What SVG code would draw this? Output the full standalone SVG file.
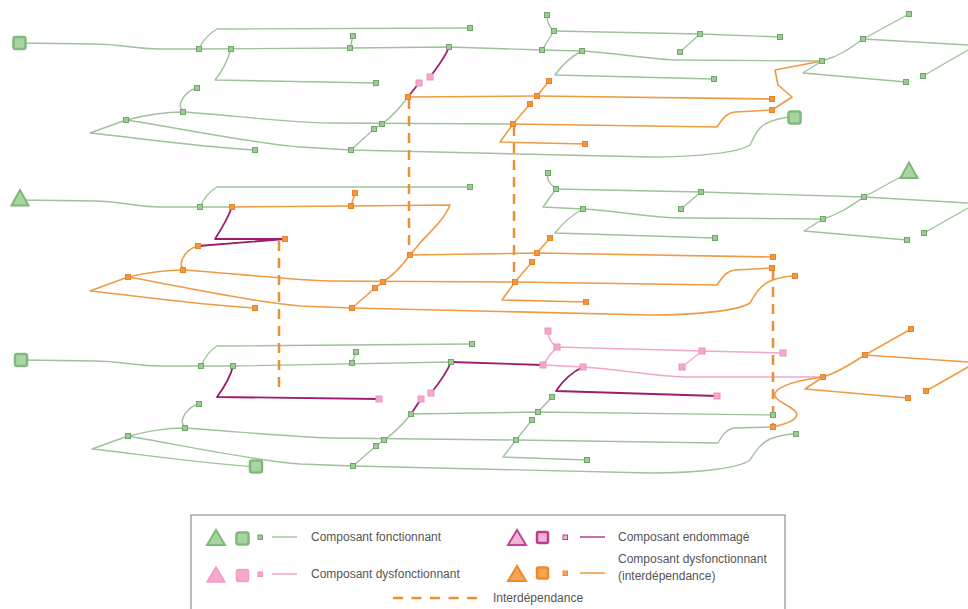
<svg xmlns="http://www.w3.org/2000/svg" width="968" height="609" viewBox="0 0 968 609">
<style>
.lg{fill:none;stroke:#9fc29b;stroke-width:1.4;stroke-linejoin:round}
.lo{fill:none;stroke:#ef9a45;stroke-width:1.6;stroke-linejoin:round}
.lm{fill:none;stroke:#9b1d6c;stroke-width:1.8;stroke-linejoin:round}
.lp{fill:none;stroke:#f2a6ca;stroke-width:1.5;stroke-linejoin:round}
.dash{fill:none;stroke:#ea9035;stroke-width:2.5;stroke-dasharray:10 7}
.ng{fill:#9ccb96;stroke:#6da868;stroke-width:1}
.no{fill:#f29640;stroke:#e98326;stroke-width:1}
.np{fill:#f5a8cb;stroke:#ec92bd;stroke-width:1}
.bg{fill:#a9d5a3;stroke:#80ba7b;stroke-width:2.5}
.tg{fill:#a9d5a3;stroke:#7cb877;stroke-width:2}
.txt{font-family:"Liberation Sans",Arial,sans-serif;font-size:12px;fill:#555}
</style>

<g id="connectors">
<!-- top layer -->
<path class="lg" d="M19 43 L95 44 C120 44 135 49 160 49 L199 49"/>
<path class="lg" d="M199 49 L350 48 L449 47 L542 50 L582 51 C620 53 650 60 680 60 L822 61"/>
<path class="lg" d="M199 49 C203 40 210 33 217 29 L470 28"/>
<path class="lg" d="M231 49 C227 62 222 72 215 80 L376 83"/>
<path class="lg" d="M197 88 C188 90 181 98 180 106 L183 112"/>
<path class="lg" d="M126 120 C150 114 165 112 183 112 C230 115 280 122 330 123 L513 124"/>
<path class="lg" d="M126 120 L90 133 C130 137 190 146 255 150"/>
<path class="lg" d="M126 120 C180 128 250 143 300 147 L351 150 L650 157 C700 157 740 152 750 145 C755 135 758 128 765 124 C775 119 785 117 794 117"/>
<path class="lg" d="M350 48 L353 36"/>
<path class="lm" d="M449 47 C445 58 438 66 430 77"/>
<path class="lm" d="M419 83 L408 97"/>
<path class="lg" d="M408 97 C400 108 390 118 382 124 L374 129 L351 150"/>
<path class="lo" d="M408 97 L537 96 L772 99"/>
<path class="lo" d="M537 96 L549 81"/>
<path class="lo" d="M513 124 L717 127 C722 120 726 113 735 112 L772 110 L792 97 L778 85 L775 70 L822 61"/>
<path class="lo" d="M513 124 L530 104"/>
<path class="lo" d="M513 124 L500 142 L585 144"/>
<path class="lg" d="M542 50 L554 31 C549 27 547 22 547 15"/>
<path class="lg" d="M554 31 L700 34 L780 37"/>
<path class="lg" d="M700 34 L680 52"/>
<path class="lg" d="M582 51 C570 57 562 65 555 75 L714 79"/>
<path class="lg" d="M822 61 C840 56 852 47 863 39 L909 14"/>
<path class="lg" d="M863 39 L968 45"/>
<path class="lg" d="M822 61 L803 73 L906 82"/>
<path class="lg" d="M923 76 L968 50"/>

<!-- middle layer -->
<path class="lg" d="M20 200 L95 201 C120 201 135 207 160 207 L232 207"/>
<path class="lg" d="M200 207 C204 198 210 191 217 187 L470 187"/>
<path class="lo" d="M232 207 L351 206 L450 205 C444 220 430 232 420 243 L410 255"/>
<path class="lm" d="M232 207 C228 218 222 228 215 239 L285 239 L198 246"/>
<path class="lo" d="M198 246 C189 248 182 256 181 264 L183 270"/>
<path class="lo" d="M128 277 C150 272 165 270 183 270 C230 273 290 280 330 281 L515 282 L717 285 C722 278 726 271 735 270 L772 268"/>
<path class="lo" d="M128 277 L90 291 C130 295 190 304 255 308"/>
<path class="lo" d="M128 277 C180 286 250 302 300 306 L352 308 L650 315 C700 315 740 310 750 303 C756 293 760 286 770 281 C778 278 788 276 795 276"/>
<path class="lo" d="M351 206 L355 193"/>
<path class="lo" d="M410 255 L537 253 L773 257"/>
<path class="lo" d="M537 253 L550 238"/>
<path class="lo" d="M410 255 C402 266 392 276 383 282 L375 288 L352 308"/>
<path class="lo" d="M515 282 L532 262"/>
<path class="lo" d="M515 282 L502 300 L586 302"/>
<path class="lg" d="M548 173 C546 179 549 183 556 189"/>
<path class="lg" d="M556 189 L543 207 L583 209 C620 211 650 218 685 218 L823 219"/>
<path class="lg" d="M556 189 L701 192 L864 197 L968 203"/>
<path class="lg" d="M701 192 L681 209"/>
<path class="lg" d="M583 209 C570 216 562 224 555 233 L715 238"/>
<path class="lg" d="M823 219 C840 214 852 205 864 197 L906 174"/>
<path class="lg" d="M823 219 L804 231 L907 240"/>
<path class="lg" d="M924 233 L968 208"/>

<!-- bottom layer -->
<path class="lg" d="M21 360 L95 361 C120 361 135 366 160 366 L233 366 L451 362"/>
<path class="lm" d="M451 362 L543 365"/>
<path class="lp" d="M543 365 L583 367 C620 369 650 376 685 377 L823 377"/>
<path class="lp" d="M543 365 C548 357 552 352 557 347 L702 351 L783 353"/>
<path class="lp" d="M557 347 C551 343 548 338 548 331"/>
<path class="lp" d="M702 351 L682 367"/>
<path class="lm" d="M583 367 C572 372 562 382 556 391 L717 396"/>
<path class="lg" d="M201 366 C205 357 210 350 217 346 L472 344"/>
<path class="lm" d="M233 366 C231 375 225 386 217 397 L379 399"/>
<path class="lg" d="M199 404 C190 406 183 414 182 422 L185 428"/>
<path class="lg" d="M128 436 C150 431 165 428 185 428 C230 431 290 437 330 438 L516 440 L718 443 C722 436 726 429 735 428 L773 427"/>
<path class="lg" d="M128 436 L92 449 C130 453 190 462 256 467"/>
<path class="lg" d="M128 436 C180 445 250 460 300 464 L353 466 L650 473 C700 473 740 468 750 460 C756 451 760 444 770 439 C778 436 788 434 796 434"/>
<path class="lg" d="M352 363 L356 352"/>
<path class="lm" d="M451 362 C447 372 440 382 431 393"/>
<path class="lm" d="M421 399 L411 414"/>
<path class="lg" d="M411 414 C403 424 393 434 384 440 L376 446 L353 466"/>
<path class="lg" d="M411 414 L538 412 L773 415"/>
<path class="lg" d="M538 412 L552 397"/>
<path class="lg" d="M516 440 L532 420"/>
<path class="lg" d="M516 440 L503 457 L587 460"/>
<path class="lo" d="M823 377 C800 380 780 385 775 393 C772 400 790 405 796 412 C800 420 785 424 773 427"/>
<path class="lo" d="M823 377 C840 372 852 363 865 355 L911 329"/>
<path class="lo" d="M865 355 L968 362"/>
<path class="lo" d="M823 377 L805 389 L908 398"/>
<path class="lo" d="M926 391 L968 367"/>

<!-- interdependencies -->
<path class="dash" d="M409 99 L409 254"/>
<path class="dash" d="M514 126 L514 281"/>
<path class="dash" d="M279 241 L279 394"/>
<path class="dash" d="M773 270 L773 427"/>
</g>

<!-- top layer nodes -->
<g id="t0"><rect class="bg" x="13.5" y="37" width="12" height="12" rx="2"/></g>
<g id="t1"><rect class="ng" x="196.5" y="46.5" width="5" height="5"/></g>
<g id="t2"><rect class="ng" x="228.5" y="46.5" width="5" height="5"/></g>
<g id="t3"><rect class="ng" x="194.5" y="85.5" width="5" height="5"/></g>
<g id="t4"><rect class="ng" x="180.5" y="109.5" width="5" height="5"/></g>
<g id="t5"><rect class="ng" x="123.5" y="117.5" width="5" height="5"/></g>
<g id="t6"><rect class="ng" x="252.5" y="147.5" width="5" height="5"/></g>
<g id="t7"><rect class="ng" x="467.5" y="25.5" width="5" height="5"/></g>
<g id="t8"><rect class="ng" x="350.5" y="33.5" width="5" height="5"/></g>
<g id="t9"><rect class="ng" x="347.5" y="45.5" width="5" height="5"/></g>
<g id="t10"><rect class="ng" x="446.5" y="44.5" width="5" height="5"/></g>
<g id="t11"><rect class="np" x="427" y="74" width="6" height="6"/></g>
<g id="t12"><rect class="np" x="416" y="80" width="6" height="6"/></g>
<g id="t13"><rect class="no" x="405.5" y="94.5" width="5" height="5"/></g>
<g id="t14"><rect class="ng" x="379.5" y="121.5" width="5" height="5"/></g>
<g id="t15"><rect class="ng" x="371.5" y="126.5" width="5" height="5"/></g>
<g id="t16"><rect class="ng" x="348.5" y="147.5" width="5" height="5"/></g>
<g id="t17"><rect class="ng" x="373.5" y="80.5" width="5" height="5"/></g>
<g id="t18"><rect class="no" x="534.5" y="93.5" width="5" height="5"/></g>
<g id="t19"><rect class="no" x="546.5" y="78.5" width="5" height="5"/></g>
<g id="t20"><rect class="no" x="510.5" y="121.5" width="5" height="5"/></g>
<g id="t21"><rect class="no" x="527.5" y="101.5" width="5" height="5"/></g>
<g id="t22"><rect class="no" x="582.5" y="141.5" width="5" height="5"/></g>
<g id="t23"><rect class="ng" x="544.5" y="12.5" width="5" height="5"/></g>
<g id="t24"><rect class="ng" x="551.5" y="28.5" width="5" height="5"/></g>
<g id="t25"><rect class="ng" x="539.5" y="47.5" width="5" height="5"/></g>
<g id="t26"><rect class="ng" x="579.5" y="48.5" width="5" height="5"/></g>
<g id="t27"><rect class="ng" x="697.5" y="31.5" width="5" height="5"/></g>
<g id="t28"><rect class="ng" x="777.5" y="34.5" width="5" height="5"/></g>
<g id="t29"><rect class="ng" x="677.5" y="49.5" width="5" height="5"/></g>
<g id="t30"><rect class="ng" x="711.5" y="76.5" width="5" height="5"/></g>
<g id="t31"><rect class="no" x="769.5" y="96.5" width="5" height="5"/></g>
<g id="t32"><rect class="no" x="769.5" y="107.5" width="5" height="5"/></g>
<g id="t33"><rect class="bg" x="788.5" y="111.5" width="12" height="12" rx="2"/></g>
<g id="t34"><rect class="ng" x="819.5" y="58.5" width="5" height="5"/></g>
<g id="t35"><rect class="ng" x="860.5" y="36.5" width="5" height="5"/></g>
<g id="t36"><rect class="ng" x="906.5" y="11.5" width="5" height="5"/></g>
<g id="t37"><rect class="ng" x="903.5" y="79.5" width="5" height="5"/></g>
<g id="t38"><rect class="ng" x="920.5" y="73.5" width="5" height="5"/></g>

<!-- middle layer nodes -->
<g id="m0"><polygon class="tg" points="20,190 11.5,205.5 28.5,205.5"/></g>
<g id="m1"><rect class="ng" x="197.5" y="204.5" width="5" height="5"/></g>
<g id="m2"><rect class="no" x="229.5" y="204.5" width="5" height="5"/></g>
<g id="m3"><rect class="no" x="195.5" y="243.5" width="5" height="5"/></g>
<g id="m4"><rect class="no" x="282.5" y="236.5" width="5" height="5"/></g>
<g id="m5"><rect class="no" x="180.5" y="267.5" width="5" height="5"/></g>
<g id="m6"><rect class="no" x="125.5" y="274.5" width="5" height="5"/></g>
<g id="m7"><rect class="no" x="252.5" y="305.5" width="5" height="5"/></g>
<g id="m8"><rect class="ng" x="467.5" y="184.5" width="5" height="5"/></g>
<g id="m9"><rect class="no" x="352.5" y="190.5" width="5" height="5"/></g>
<g id="m10"><rect class="no" x="348.5" y="203.5" width="5" height="5"/></g>
<g id="m11"><rect class="no" x="407.5" y="252.5" width="5" height="5"/></g>
<g id="m12"><rect class="no" x="380.5" y="279.5" width="5" height="5"/></g>
<g id="m13"><rect class="no" x="372.5" y="285.5" width="5" height="5"/></g>
<g id="m14"><rect class="no" x="349.5" y="305.5" width="5" height="5"/></g>
<g id="m15"><rect class="no" x="534.5" y="250.5" width="5" height="5"/></g>
<g id="m16"><rect class="no" x="547.5" y="235.5" width="5" height="5"/></g>
<g id="m17"><rect class="no" x="512.5" y="279.5" width="5" height="5"/></g>
<g id="m18"><rect class="no" x="529.5" y="259.5" width="5" height="5"/></g>
<g id="m19"><rect class="no" x="583.5" y="299.5" width="5" height="5"/></g>
<g id="m20"><rect class="ng" x="545.5" y="170.5" width="5" height="5"/></g>
<g id="m21"><rect class="ng" x="553.5" y="186.5" width="5" height="5"/></g>
<g id="m22"><rect class="ng" x="580.5" y="206.5" width="5" height="5"/></g>
<g id="m23"><rect class="ng" x="698.5" y="189.5" width="5" height="5"/></g>
<g id="m24"><rect class="ng" x="678.5" y="206.5" width="5" height="5"/></g>
<g id="m25"><rect class="ng" x="861.5" y="194.5" width="5" height="5"/></g>
<g id="m26"><polygon class="tg" points="909,162.5 900.5,178 917.5,178"/></g>
<g id="m27"><rect class="ng" x="820.5" y="216.5" width="5" height="5"/></g>
<g id="m28"><rect class="ng" x="904.5" y="237.5" width="5" height="5"/></g>
<g id="m29"><rect class="ng" x="921.5" y="230.5" width="5" height="5"/></g>
<g id="m30"><rect class="ng" x="712.5" y="235.5" width="5" height="5"/></g>
<g id="m31"><rect class="no" x="770.5" y="254.5" width="5" height="5"/></g>
<g id="m32"><rect class="no" x="769.5" y="265.5" width="5" height="5"/></g>
<g id="m33"><rect class="no" x="792.5" y="273.5" width="5" height="5"/></g>

<!-- bottom layer nodes -->
<g id="b0"><rect class="bg" x="15" y="354" width="12" height="12" rx="2"/></g>
<g id="b1"><rect class="ng" x="198.5" y="363.5" width="5" height="5"/></g>
<g id="b2"><rect class="ng" x="230.5" y="363.5" width="5" height="5"/></g>
<g id="b3"><rect class="ng" x="196.5" y="401.5" width="5" height="5"/></g>
<g id="b4"><rect class="ng" x="182.5" y="425.5" width="5" height="5"/></g>
<g id="b5"><rect class="ng" x="125.5" y="433.5" width="5" height="5"/></g>
<g id="b6"><rect class="bg" x="250" y="460.5" width="12" height="12" rx="2"/></g>
<g id="b7"><rect class="np" x="376" y="396" width="6" height="6"/></g>
<g id="b8"><rect class="ng" x="469.5" y="341.5" width="5" height="5"/></g>
<g id="b9"><rect class="ng" x="353.5" y="349.5" width="5" height="5"/></g>
<g id="b10"><rect class="ng" x="349.5" y="360.5" width="5" height="5"/></g>
<g id="b11"><rect class="ng" x="448.5" y="359.5" width="5" height="5"/></g>
<g id="b12"><rect class="np" x="540" y="362" width="6" height="6"/></g>
<g id="b13"><rect class="np" x="554" y="344" width="6" height="6"/></g>
<g id="b14"><rect class="np" x="545" y="328" width="6" height="6"/></g>
<g id="b15"><rect class="np" x="580" y="364" width="6" height="6"/></g>
<g id="b16"><rect class="np" x="428" y="390" width="6" height="6"/></g>
<g id="b17"><rect class="np" x="418" y="396" width="6" height="6"/></g>
<g id="b18"><rect class="ng" x="408.5" y="411.5" width="5" height="5"/></g>
<g id="b19"><rect class="ng" x="381.5" y="437.5" width="5" height="5"/></g>
<g id="b20"><rect class="ng" x="373.5" y="443.5" width="5" height="5"/></g>
<g id="b21"><rect class="ng" x="350.5" y="463.5" width="5" height="5"/></g>
<g id="b22"><rect class="ng" x="535.5" y="409.5" width="5" height="5"/></g>
<g id="b23"><rect class="ng" x="549.5" y="394.5" width="5" height="5"/></g>
<g id="b24"><rect class="ng" x="513.5" y="437.5" width="5" height="5"/></g>
<g id="b25"><rect class="ng" x="529.5" y="417.5" width="5" height="5"/></g>
<g id="b26"><rect class="ng" x="584.5" y="457.5" width="5" height="5"/></g>
<g id="b27"><rect class="np" x="699" y="348" width="6" height="6"/></g>
<g id="b28"><rect class="np" x="679" y="364" width="6" height="6"/></g>
<g id="b29"><rect class="np" x="780" y="350" width="6" height="6"/></g>
<g id="b30"><rect class="no" x="820.5" y="374.5" width="5" height="5"/></g>
<g id="b31"><rect class="np" x="714" y="393" width="6" height="6"/></g>
<g id="b32"><rect class="ng" x="770.5" y="412.5" width="5" height="5"/></g>
<g id="b33"><rect class="no" x="770.5" y="424.5" width="5" height="5"/></g>
<g id="b34"><rect class="ng" x="793.5" y="431.5" width="5" height="5"/></g>
<g id="b35"><rect class="no" x="862.5" y="352.5" width="5" height="5"/></g>
<g id="b36"><rect class="no" x="908.5" y="326.5" width="5" height="5"/></g>
<g id="b37"><rect class="no" x="905.5" y="395.5" width="5" height="5"/></g>
<g id="b38"><rect class="no" x="923.5" y="388.5" width="5" height="5"/></g>

<!-- legend -->
<g id="legend">
<rect x="191" y="515" width="594" height="100" fill="#fff" stroke="#7a7a7a" stroke-width="1"/>
<polygon points="216,530 207,545 225,545" fill="#a9d5a3" stroke="#7cb877" stroke-width="2"/>
<rect x="236.5" y="532.5" width="12" height="12" rx="2" fill="#a9d5a3" stroke="#80ba7b" stroke-width="2.5"/>
<rect x="258" y="535" width="4.5" height="4.5" fill="#9ccb96" stroke="#6da868"/>
<line x1="272" y1="537" x2="297" y2="537" stroke="#9fc29b" stroke-width="1.4"/>
<text class="txt" x="311" y="541">Composant fonctionnant</text>

<polygon points="216,567 207,582 225,582" fill="#f5a8cb" stroke="#f19cc3" stroke-width="1.5"/>
<rect x="236.5" y="569.5" width="12" height="12" rx="2" fill="#f5a8cb" stroke="#f19cc3" stroke-width="1.5"/>
<rect x="258" y="572" width="4.5" height="4.5" fill="#f5a8cb" stroke="#ec92bd"/>
<line x1="272" y1="574" x2="297" y2="574" stroke="#f2a6ca" stroke-width="1.5"/>
<text class="txt" x="311" y="578">Composant dysfonctionnant</text>

<polygon points="517,530 508,545 526,545" fill="#eeb5d6" stroke="#c0479a" stroke-width="2"/>
<rect x="537" y="532" width="11" height="11" rx="1.5" fill="#eeb5d6" stroke="#b8408c" stroke-width="2.5"/>
<rect x="563" y="535" width="4.5" height="4.5" fill="#eeb5d6" stroke="#b8408c"/>
<line x1="580" y1="537" x2="605" y2="537" stroke="#b03e87" stroke-width="1.5"/>
<text class="txt" x="618" y="541">Composant endommagé</text>

<polygon points="517,566 508,581 526,581" fill="#f5a55a" stroke="#ee8a2a" stroke-width="2"/>
<rect x="537" y="567.5" width="11" height="11" rx="1.5" fill="#f5a55a" stroke="#ee8a2a" stroke-width="2.5"/>
<rect x="563" y="571" width="4.5" height="4.5" fill="#f5a55a" stroke="#ee8a2a"/>
<line x1="580" y1="573" x2="605" y2="573" stroke="#ef9a45" stroke-width="1.6"/>
<text class="txt" x="618" y="563">Composant dysfonctionnant</text>
<text class="txt" x="618" y="580">(interdépendance)</text>

<line x1="393" y1="598" x2="478" y2="598" stroke="#ea9035" stroke-width="2.5" stroke-dasharray="10 8.5"/>
<text class="txt" x="493" y="602">Interdépendance</text>
</g>
</svg>
